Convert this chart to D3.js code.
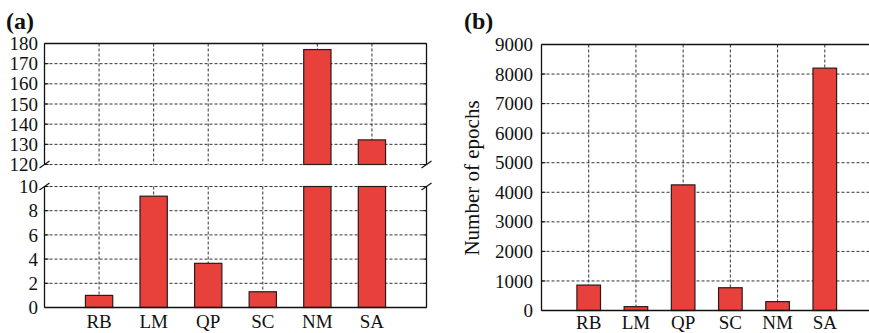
<!DOCTYPE html>
<html><head><meta charset="utf-8">
<script src="https://cdn.jsdelivr.net/npm/d3@7"></script>
<style>
html,body{margin:0;padding:0;background:#fff;}
svg{display:block;}
text{font-family:"Liberation Serif","Times New Roman",serif;fill:#111;}
</style></head>
<body>
<svg id="c" width="869" height="333"></svg>
<script>
const categories = ["RB","LM","QP","SC","NM","SA"];
const timeValues = [1.0, 9.2, 3.65, 1.3, 177, 132.2];
const epochValues = [860, 130, 4250, 770, 300, 8200];
const upperTicks = [120,130,140,150,160,170,180];
const lowerTicks = [0,2,4,6,8,10];
const epochTicks = [0,1000,2000,3000,4000,5000,6000,7000,8000,9000];

const svg = d3.select("#c");
const barFill = "#e8403b", barStroke = "#2a1a1a";
const gridCol = "#333";
const ax = "#111";
const tickFont = 19;

function xScaleFor(x0, x1){ return d3.scaleLinear().domain([0, categories.length+1]).range([x0, x1]); }

function drawGrid(g, y, ticks, x0, x1, skip){
  ticks.forEach(t=>{ if(skip.includes(t)) return;
    g.append("line").attr("x1",x0).attr("x2",x1).attr("y1",y(t)).attr("y2",y(t))
      .attr("stroke",gridCol).attr("stroke-width",1).attr("stroke-dasharray","3,2");
  });
}
function drawVGrid(g, x, yTop, yBot){
  categories.forEach((c,i)=>{
    g.append("line").attr("x1",x(i+1)).attr("x2",x(i+1)).attr("y1",yTop).attr("y2",yBot)
      .attr("stroke",gridCol).attr("stroke-width",1).attr("stroke-dasharray","3,2");
  });
}
function drawYLabels(g, y, ticks, xr){
  ticks.forEach(t=>{
    g.append("text").attr("x",xr).attr("y",y(t)).attr("dy","0.35em")
      .attr("text-anchor","end").attr("font-size",tickFont).text(t);
  });
}
function drawTicks(g, y, ticks, xs, dir){
  ticks.forEach(t=>{
    xs.forEach((xx,k)=>{
      g.append("line").attr("x1",xx).attr("x2",xx+dir[k]*4).attr("y1",y(t)).attr("y2",y(t))
        .attr("stroke",ax).attr("stroke-width",1);
    });
  });
}
function drawBars(g, x, y, vals, lo, hi, slot){
  vals.forEach((v,i)=>{
    if(v <= lo) return;
    const top = y(Math.min(v,hi)), bot = y(lo);
    g.append("rect").attr("x",x(i+1)-slot*0.25).attr("width",slot*0.5)
      .attr("y",top).attr("height",bot-top)
      .attr("fill",barFill).attr("stroke",barStroke).attr("stroke-width",1.2);
  });
}

// ---------- Panel (a)
{
  const L=44.5, R=426.5;
  const x = xScaleFor(L,R);
  const slot = x(1)-x(0);
  const yU = d3.scaleLinear().domain([120,180]).range([164.5,43.5]);
  const yL = d3.scaleLinear().domain([0,10]).range([307.5,186.5]);
  const g = svg.append("g");
  drawGrid(g, yU, upperTicks, L, R, [180]);
  drawGrid(g, yL, lowerTicks, L, R, [0]);
  drawVGrid(g, x, yU(180), yU(120));
  drawVGrid(g, x, yL(10), yL(0));
  drawBars(g, x, yU, timeValues, 120, 180, slot);
  drawBars(g, x, yL, timeValues, 0, 10, slot);
  drawTicks(g, yU, upperTicks, [L,R], [1,-1]);
  drawTicks(g, yL, lowerTicks, [L,R], [1,-1]);
  g.append("line").attr("x1",L).attr("x2",R).attr("y1",yU(180)).attr("y2",yU(180)).attr("stroke",ax).attr("stroke-width",1.3);
  g.append("line").attr("x1",L).attr("x2",L).attr("y1",yU(180)).attr("y2",yU(120)).attr("stroke",ax).attr("stroke-width",1.3);
  g.append("line").attr("x1",R).attr("x2",R).attr("y1",yU(180)).attr("y2",yU(120)).attr("stroke",ax).attr("stroke-width",1.3);
  g.append("line").attr("x1",L).attr("x2",L).attr("y1",yL(10)).attr("y2",yL(0)).attr("stroke",ax).attr("stroke-width",1.3);
  g.append("line").attr("x1",R).attr("x2",R).attr("y1",yL(10)).attr("y2",yL(0)).attr("stroke",ax).attr("stroke-width",1.3);
  g.append("line").attr("x1",L).attr("x2",R).attr("y1",yL(0)).attr("y2",yL(0)).attr("stroke",ax).attr("stroke-width",1.5);
  [yU(120), yL(10)].forEach(yy=>{
    [L,R].forEach(xx=>{
      g.append("line").attr("x1",xx-5).attr("x2",xx+5).attr("y1",yy+3.5).attr("y2",yy-3.5)
        .attr("stroke",ax).attr("stroke-width",1.1);
    });
  });
  drawYLabels(g, yU, upperTicks, 38);
  drawYLabels(g, yL, lowerTicks, 38);
  categories.forEach((c,i)=>{
    g.append("text").attr("x",x(i+1)).attr("y",328).attr("text-anchor","middle").attr("font-size",tickFont).text(c);
  });
  g.append("text").attr("x",6).attr("y",29).attr("font-size",24).attr("font-weight","bold").text("(a)");
}

// ---------- Panel (b)
{
  const L=541.5, R=872;
  const x = xScaleFor(L,R);
  const slot = x(1)-x(0);
  const y = d3.scaleLinear().domain([0,9000]).range([310.5,44.5]);
  const g = svg.append("g");
  drawGrid(g, y, epochTicks, L, R, [0,9000]);
  drawVGrid(g, x, y(9000), y(0));
  drawBars(g, x, y, epochValues, 0, 9000, slot);
  drawTicks(g, y, epochTicks, [L], [1]);
  g.append("line").attr("x1",L).attr("x2",R).attr("y1",y(9000)).attr("y2",y(9000)).attr("stroke",ax).attr("stroke-width",1.3);
  g.append("line").attr("x1",L).attr("x2",L).attr("y1",y(9000)).attr("y2",y(0)).attr("stroke",ax).attr("stroke-width",1.3);
  g.append("line").attr("x1",L).attr("x2",R).attr("y1",y(0)).attr("y2",y(0)).attr("stroke",ax).attr("stroke-width",1.5);
  drawYLabels(g, y, epochTicks, 533);
  categories.forEach((c,i)=>{
    g.append("text").attr("x",x(i+1)).attr("y",329).attr("text-anchor","middle").attr("font-size",tickFont).text(c);
  });
  g.append("text").attr("transform","translate(479,178) rotate(-90)").attr("text-anchor","middle")
    .attr("font-size",21).text("Number of epochs");
  g.append("text").attr("x",464).attr("y",29).attr("font-size",24).attr("font-weight","bold").text("(b)");
}
</script>
</body></html>
